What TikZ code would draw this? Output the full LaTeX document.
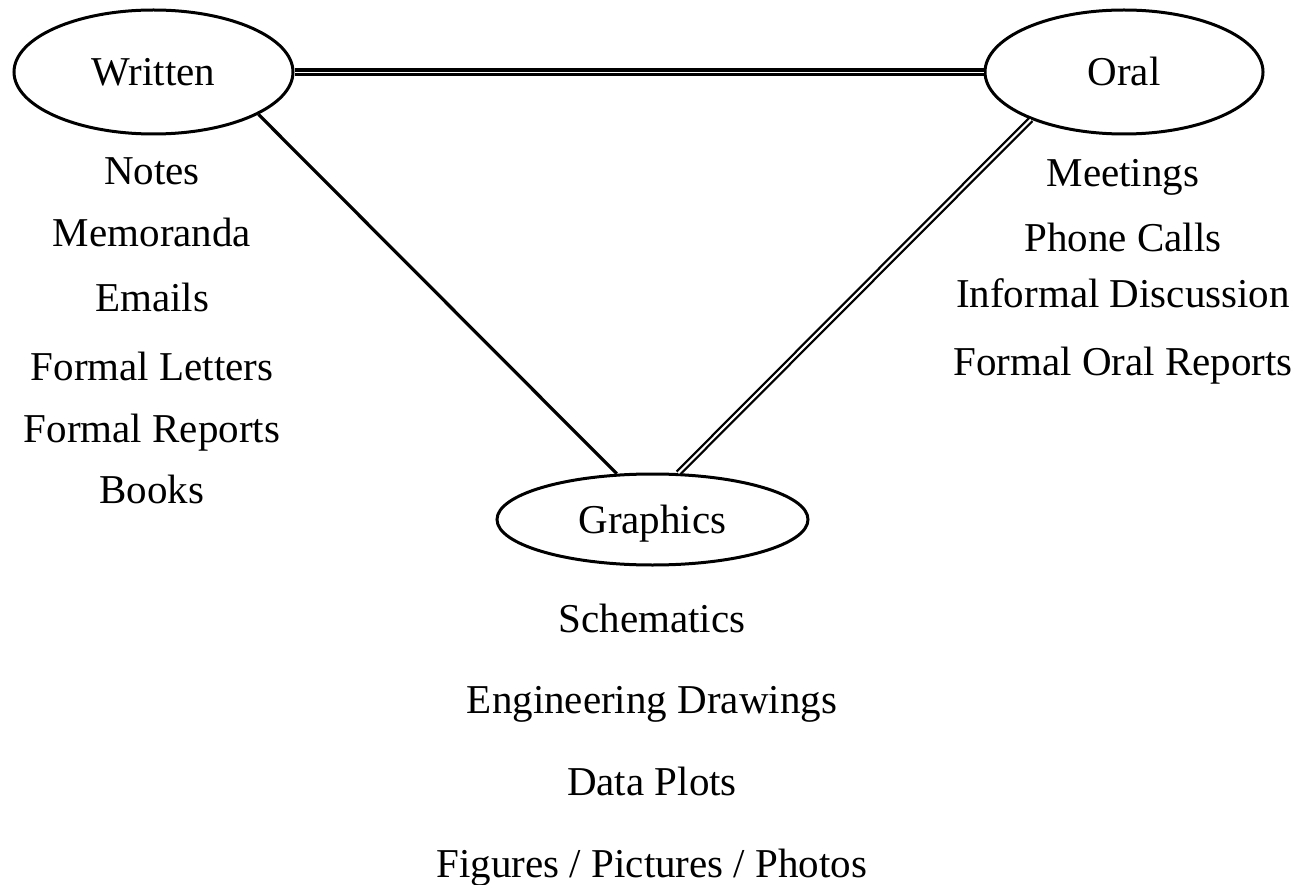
\documentclass[tikz,border=0pt]{standalone}
\usepackage{fontspec}
\setmainfont{Liberation Serif}
\usetikzlibrary{shapes.geometric}

\begin{document}
\begin{tikzpicture}[x=1pt, y=-1pt,
  every node/.style={font=\fontsize{41}{49}\selectfont},
  mode/.style={draw, ellipse, line width=3pt, inner sep=0pt,
    text height=27pt, text depth=0pt},
  item/.style={anchor=base, inner sep=0pt},
  plainlink/.style={line width=3.2pt},
  heavylink/.style={double, line width=3.4pt, double distance=0.9pt},
  openlink/.style={double, line width=2.3pt, double distance=2.1pt}]

  \useasboundingbox (0,0) rectangle (1298,885);

  % the three modes of communication
  \node[mode, minimum width=279pt, minimum height=124pt] (written) at (153.5,72) {Written};
  \node[mode, minimum width=278pt, minimum height=124pt] (oral) at (1124,72) {Oral};
  \node[mode, minimum width=311pt, minimum height=91pt] (graphics) at (652.5,519.5) {Graphics};

  % links between the modes
  \draw[heavylink] (written.east) -- (oral.west);
  \draw[plainlink] (written.-22.6) -- (graphics.128.6);
  \draw[openlink] (oral.207.1) -- (graphics.61.2);

  % written forms
  \node[item] (notes) at (152,185) {Notes};
  \node[item] (memo) at (152,247) {Memoranda};
  \node[item] (emails) at (152,312) {Emails};
  \node[item] (letters) at (152,380) {Formal Letters};
  \node[item] (reports) at (152,442) {Formal Reports};
  \node[item] (books) at (152,503) {Books};

  % oral forms
  \node[item] (meetings) at (1123,187) {Meetings};
  \node[item] (phone) at (1123,252) {Phone Calls};
  \node[item] (informal) at (1123,307) {Informal Discussion};
  \node[item] (oralrep) at (1123,375) {Formal Oral Reports};

  % graphic forms
  \node[item] (schem) at (652,632) {Schematics};
  \node[item] (engdraw) at (652,713) {Engineering Drawings};
  \node[item] (plots) at (652,795) {Data Plots};
  \node[item] (figs) at (652,877) {Figures / Pictures / Photos};
\end{tikzpicture}
\end{document}
